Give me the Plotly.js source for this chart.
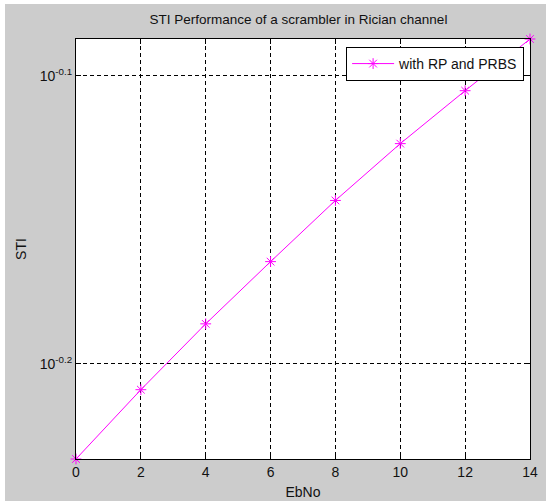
<!DOCTYPE html>
<html>
<head>
<meta charset="utf-8">
<script src="https://cdn.plot.ly/plotly-3.0.1.min.js"></script>
<style>
html,body{margin:0;padding:0;background:#ffffff;}
#chart{position:absolute;left:5px;top:4px;width:541px;height:497px;}
</style>
</head>
<body>
<div id="chart"></div>
<script>
const ebno = [0, 2, 4, 6, 8, 10, 12, 14];
const sti = [0.5848, 0.6181, 0.6515, 0.6847, 0.7190, 0.7524, 0.7849, 0.8180];
const xTickVals = [0, 2, 4, 6, 8, 10, 12, 14];
const yTickVals = [Math.pow(10, -0.2), Math.pow(10, -0.1)];
const yTickText = ['10<sup>-0.2</sup>', '10<sup>-0.1</sup>'];
const seriesName = 'with RP and PRBS';

const FONT = '"Liberation Sans", Arial, sans-serif';
const FS = 14;

const trace = {
  x: ebno,
  y: sti,
  type: 'scatter',
  mode: 'lines+markers',
  name: seriesName,
  cliponaxis: false,
  line: {color: '#ff00ff', width: 1},
  marker: {symbol: 'asterisk-open', size: 9, color: '#ff00ff', line: {color: '#ff00ff', width: 1}}
};

const layout = {
  width: 541,
  height: 497,
  paper_bgcolor: '#cccccc',
  plot_bgcolor: '#ffffff',
  margin: {l: 71, r: 16, t: 35, b: 42},
  font: {family: FONT, size: FS, color: '#111111'},
  title: {text: 'STI Performance of a scrambler in Rician channel', font: {family: FONT, size: 13.5, color: '#111111'},
          xref: 'paper', x: 0.49, xanchor: 'center', yref: 'container', y: 0.97, yanchor: 'middle'},
  showlegend: true,
  legend: {x: 0.987, y: 0.981, xanchor: 'right', yanchor: 'top', bgcolor: '#ffffff', bordercolor: '#000000', borderwidth: 1,
           font: {family: FONT, size: FS, color: '#111111'}, itemwidth: 42},
  xaxis: {
    range: [0, 14],
    tickvals: xTickVals,
    ticks: 'inside', ticklen: 5, tickcolor: '#000000',
    showline: true, linecolor: '#000000', linewidth: 1, mirror: 'ticks',
    showgrid: true, gridcolor: '#000000', gridwidth: 1, griddash: '4px,3px',
    zeroline: false,
    tickfont: {family: FONT, size: FS, color: '#111111'},
    title: {text: 'EbNo', font: {family: FONT, size: FS, color: '#111111'}, standoff: 8}
  },
  yaxis: {
    type: 'log',
    range: [Math.log10(Math.min(...sti)), Math.log10(Math.max(...sti))],
    tickvals: yTickVals,
    ticktext: yTickText,
    ticks: 'inside', ticklen: 5, tickcolor: '#000000',
    showline: true, linecolor: '#000000', linewidth: 1, mirror: 'ticks',
    showgrid: true, gridcolor: '#000000', gridwidth: 1, griddash: '4px,3px',
    zeroline: false,
    tickfont: {family: FONT, size: FS, color: '#111111'},
    title: {text: 'STI', font: {family: FONT, size: FS, color: '#111111'}, standoff: 9}
  }
};

Plotly.newPlot('chart', [trace], layout, {displayModeBar: false, staticPlot: true});
</script>
</body>
</html>
